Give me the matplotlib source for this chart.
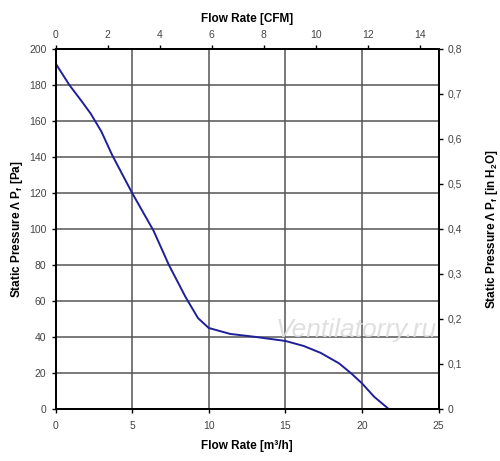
import matplotlib
matplotlib.use("Agg")
import matplotlib.pyplot as plt

plt.rcParams['font.family'] = ['Liberation Sans', 'DejaVu Sans']

# Data (flow in m3/h, static pressure in Pa)
flow_m3h = [0, 0.9, 1.7, 2.3, 3.0, 3.7, 5.0, 6.4, 7.4, 8.5, 9.3, 10.0, 11.4,
            12.9, 15.0, 16.2, 17.3, 18.5, 19.3, 20.0, 20.8, 21.75]
pressure_pa = [192, 180, 171, 164, 154, 141, 120, 99, 80, 62, 50.5, 45, 41.7,
               40.2, 37.8, 35, 31.2, 25.4, 19.8, 14.3, 6.8, 0]

x_ticks = [0, 5, 10, 15, 20, 25]
y_ticks = [0, 20, 40, 60, 80, 100, 120, 140, 160, 180, 200]
cfm_ticks = [0, 2, 4, 6, 8, 10, 12, 14]
inh2o_ticks = [0, 0.1, 0.2, 0.3, 0.4, 0.5, 0.6, 0.7, 0.8]
inh2o_labels = ['0', '0,1', '0,2', '0,3', '0,4', '0,5', '0,6', '0,7', '0,8']

CFM_PER_M3H = 0.5886

fig = plt.figure(figsize=(5.0, 4.61), dpi=100)
ax = fig.add_axes([0.111, 0.1128, 0.766, 0.7812])

tick_color = '#444444'
grid_color = '#555555'

ax.plot(flow_m3h, pressure_pa, color='#1f1f99', lw=1.4, zorder=3)
ax.set_xlim(0, 25)
ax.set_ylim(0, 200)
ax.set_xticks(x_ticks)
ax.set_yticks(y_ticks)
ax.grid(True, color=grid_color, lw=1.1)
ax.tick_params(axis='both', labelsize=7.5, length=3, width=1, direction='out')
ax.tick_params(axis='x', pad=6)
for lab in ax.get_xticklabels() + ax.get_yticklabels():
    lab.set_color(tick_color)
for s in ax.spines.values():
    s.set_linewidth(1.4)
    s.set_color('black')

ax.set_xlabel('Flow Rate [m³/h]', fontsize=8.5, fontweight='bold', labelpad=6)
ax.set_ylabel('Static Pressure Λ P$_\\mathregular{f}$ [Pa]', fontsize=8.5,
              fontweight='bold', labelpad=3)

# top axis CFM
axt = ax.twiny()
axt.set_xlim(0, 25 * CFM_PER_M3H)
axt.set_xticks(cfm_ticks)
axt.tick_params(axis='x', labelsize=7.5, length=3, width=1, direction='out')
for lab in axt.get_xticklabels():
    lab.set_color(tick_color)
axt.set_xlabel('Flow Rate [CFM]', fontsize=8.5, fontweight='bold', labelpad=6)

# right axis inH2O
axr = ax.twinx()
axr.set_ylim(0, 0.8)
axr.set_yticks(inh2o_ticks)
axr.set_yticklabels(inh2o_labels)
axr.tick_params(axis='y', labelsize=7.5, length=3, width=1, direction='out')
for lab in axr.get_yticklabels():
    lab.set_color(tick_color)
axr.set_ylabel('Static Pressure Λ P$_\\mathregular{f}$ [in H$_\\mathregular{2}$O]',
               fontsize=8.5, fontweight='bold', labelpad=16)
for a in (axt, axr):
    for s in a.spines.values():
        s.set_linewidth(1.4)

# watermark
ax.text(19.65, 37, 'Ventilatorry.ru', fontsize=19, style='italic',
        color='#dcdcdc', alpha=0.9, ha='center', va='bottom', zorder=2)

fig.savefig('out.png', dpi=100)
